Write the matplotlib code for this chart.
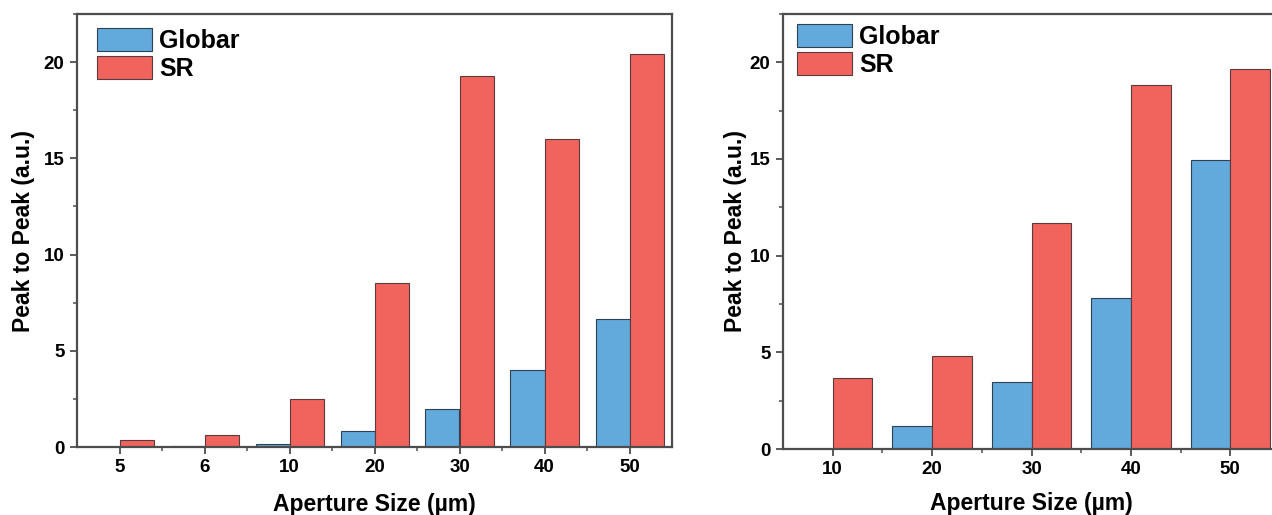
#!/usr/bin/env python3
# Peak-to-peak signal vs aperture size, Globar vs SR source

import matplotlib
matplotlib.use('Agg')
import matplotlib.pyplot as plt
import numpy as np
from matplotlib.ticker import MultipleLocator, FixedLocator

# Left panel data
left_apertures = ['5', '6', '10', '20', '30', '40', '50']
left_globar = [0.0, 0.03, 0.15, 0.81, 1.97, 3.98, 6.67]
left_sr = [0.35, 0.6, 2.48, 8.54, 19.26, 15.98, 20.4]

# Right panel data
right_apertures = ['10', '20', '30', '40', '50']
right_globar = [0.0, 1.21, 3.45, 7.81, 14.95]
right_sr = [3.69, 4.83, 11.71, 18.83, 19.66]

COLORS = {
    'Globar': '#62a9dc',
    'SR': '#f1645e',
}
SPINE = '#4d4d4d'

plt.rcParams['font.family'] = ['Liberation Sans', 'DejaVu Sans']
plt.rcParams['font.weight'] = 'bold'


def draw_panel(ax, labels, globar, sr, leg_offset, xpad, ypad):
    x = np.arange(len(labels))
    width = 0.4
    b1 = ax.bar(x - width / 2, globar, width, color=COLORS['Globar'],
                edgecolor='#2f4050', linewidth=0.8, label='Globar')
    b2 = ax.bar(x + width / 2, sr, width, color=COLORS['SR'],
                edgecolor='#5a3a3a', linewidth=0.8, label='SR')

    ax.set_xlim(-0.5, len(labels) - 0.5)
    ax.set_ylim(0, 22.5)
    ax.set_xticks(x)
    ax.set_xticklabels(labels)
    ax.xaxis.set_minor_locator(FixedLocator(x[:-1] + 0.5))
    ax.yaxis.set_major_locator(MultipleLocator(5))
    ax.yaxis.set_minor_locator(MultipleLocator(2.5))

    for s in ax.spines.values():
        s.set_color(SPINE)
        s.set_linewidth(1.6)
    ax.tick_params(axis='both', which='major', direction='out', length=5,
                   width=1.3, color=SPINE, labelsize=13.5, pad=4)
    ax.tick_params(axis='both', which='minor', direction='out', length=3,
                   width=1.1, color=SPINE)
    for lab in ax.get_xticklabels() + ax.get_yticklabels():
        lab.set_fontweight('bold')

    ax.set_xlabel('Aperture Size (µm)', fontsize=16.5, fontweight='bold', labelpad=xpad)
    ax.set_ylabel('Peak to Peak (a.u.)', fontsize=16.5, fontweight='bold', labelpad=ypad)

    # legend placed by pixel offset from the top-left corner of the axes
    bbox = ax.get_position()
    fw, fh = ax.figure.get_size_inches() * ax.figure.dpi
    ax_w, ax_h = bbox.width * fw, bbox.height * fh
    anchor = (leg_offset[0] / ax_w, 1 - leg_offset[1] / ax_h)
    ax.legend(handles=[b1, b2], loc='upper left', bbox_to_anchor=anchor,
              frameon=False, prop={'size': 18, 'weight': 'bold'},
              handlelength=2.2, handleheight=1.05, labelspacing=0.12,
              handletextpad=0.3, borderaxespad=0.0, borderpad=0.0)


fig = plt.figure(figsize=(12.72, 5.15), dpi=100)
ax1 = fig.add_axes([77 / 1272, 68 / 515, 595 / 1272, 433 / 515])
ax2 = fig.add_axes([783 / 1272, 66 / 515, 497 / 1272, 435 / 515])

draw_panel(ax1, left_apertures, left_globar, left_sr, (20, 14), 12, 6)
draw_panel(ax2, right_apertures, right_globar, right_sr, (14, 10), 10, 2)

fig.savefig('out.png', dpi=100)
plt.close(fig)
